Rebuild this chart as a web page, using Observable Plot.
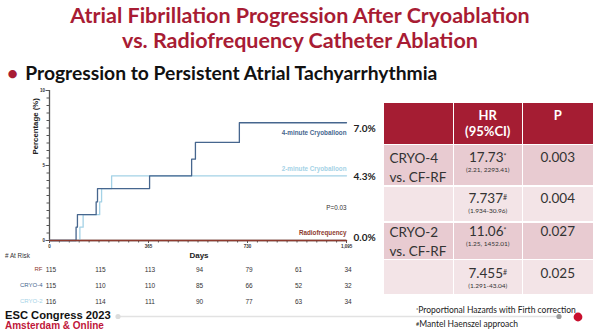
<!DOCTYPE html>
<html><head><meta charset="utf-8">
<script src="https://cdn.jsdelivr.net/npm/d3@7"></script>
<script src="https://cdn.jsdelivr.net/npm/@observablehq/plot@0.6"></script>
<style>
body{margin:0;background:#fff;}
#slide{position:relative;width:600px;height:332px;overflow:hidden;background:#fff;font-family:Lato,"Open Sans",sans-serif;}
.abs{position:absolute;}
#title{left:0;top:3px;width:600px;text-align:center;color:#a81c34;font-weight:700;font-size:21.5px;line-height:25px;}
#subtitle{left:7px;top:62px;color:#111;font-weight:700;font-size:19.3px;line-height:22px;white-space:nowrap;}
#subtitle .bul{color:#a81c34;margin-right:7px;}
.cell{position:absolute;box-sizing:border-box;text-align:center;color:#333;}
.big{font-size:13.5px;line-height:17px;}
.small{font-size:6.5px;line-height:8px;}
.hdr{color:#fff;font-weight:700;font-size:13px;line-height:16px;}
sup{font-size:7px;vertical-align:top;position:relative;top:-1px;}
#esc{left:5px;top:309px;font-family:"Liberation Sans",Arial,sans-serif;font-weight:700;font-size:11.2px;line-height:12px;color:#111;}
#ams{left:5px;top:320px;font-family:"Liberation Sans",Arial,sans-serif;font-weight:700;font-size:10px;line-height:11px;color:#c0163a;}
.foot{left:416px;font-size:8.5px;line-height:10px;color:#222;white-space:nowrap;}
.foot sup{font-size:5.5px;top:0;}
</style></head><body><div id="slide"></div><script>
// ---- data ----
const days4 = [0, 98, 103, 172, 177, 369, 524, 538, 700, 1095];
const pct4  = [0, 0.89, 1.72, 2.57, 3.46, 4.31, 5.42, 6.54, 7.85, 7.85];
const days2 = [0, 112, 124, 185, 192, 229, 1095];
const pct2  = [0, 0.89, 1.72, 2.57, 3.46, 4.31, 4.31];
const daysRF = [0, 1095];
const pctRF  = [0, 0];
const seriesNames = ["4-minute Cryoballoon", "2-minute Cryoballoon", "Radiofrequency"];
const endLabels = ["7.0%", "4.3%", "0.0%"];
const pText = "P=0.03";
const xTicks = [0, 365, 730, 1095];
const yTicks = [0, 5, 10];
const riskDays = [0, 182.5, 365, 547.5, 730, 912.5, 1095];
const riskGroups = ["RF", "CRYO-4", "CRYO-2"];
const riskRF = [115, 115, 113, 94, 79, 61, 34];
const riskC4 = [115, 110, 110, 85, 66, 52, 32];
const riskC2 = [116, 114, 111, 90, 77, 63, 34];
const tableHeader = ["", "HR|(95%CI)", "P"];
const tableGroup = ["CRYO-4|vs. CF-RF", "", "CRYO-2|vs. CF-RF", ""];
const tableHR = ["17.73", "7.737", "11.06", "7.455"];
const tableHRMark = ["*", "#", "*", "#"];
const tableCI = ["(2.21, 2293.41)", "(1.934-30.96)", "(1.25, 1452.01)", "(1.291-43.04)"];
const tableP = ["0.003", "0.004", "0.027", "0.025"];
const titleLines = ["Atrial Fibrillation Progression After Cryoablation", "vs. Radiofrequency Catheter Ablation"];
const subtitle = "Progression to Persistent Atrial Tachyarrhythmia";
const footnotes = [["*", "Proportional Hazards with Firth correction"], ["#", "Mantel Haenszel approach"]];

// ---- styles ----
const C4 = "#46668e", C2 = "#a4d2e6", CRF = "#8e3a2e";
const slide = document.getElementById("slide");
function add(html, cls, id, style) {
  const d = document.createElement("div");
  d.className = cls; if (id) d.id = id; if (style) d.style.cssText = style;
  d.innerHTML = html; slide.appendChild(d); return d;
}
add(titleLines.join("<br>"), "abs", "title");
add('<span class="bul">•</span>' + subtitle, "abs", "subtitle");

// ---- KM chart ----
const s4 = days4.map((d, i) => ({day: d, pct: pct4[i]}));
const s2 = days2.map((d, i) => ({day: d, pct: pct2[i]}));
const sRF = daysRF.map((d, i) => ({day: d, pct: pctRF[i]}));
const minorX = d3.range(0, 1095.1, 36.5);
const minorY = d3.range(0, 10.01, 0.5);
const font = "'Liberation Sans', Arial, sans-serif";
const km = Plot.plot({
  width: 380, height: 165, marginLeft: 49, marginRight: 34, marginTop: 5, marginBottom: 10,
  x: {domain: [0, 1095], axis: null},
  y: {domain: [0, 10], axis: null},
  style: {fontFamily: font, background: "transparent", overflow: "visible"},
  marks: [
    Plot.axisX(minorX, {tickSize: 2.5, tickFormat: () => "", label: null, stroke: "#555"}),
    Plot.axisX(xTicks, {tickSize: 3, tickPadding: 1, fontSize: 4.5, fontWeight: "bold", label: null, stroke: "#555", fill: "#333"}),
    Plot.axisY(minorY, {tickSize: 2.5, tickFormat: () => "", label: null, stroke: "#555"}),
    Plot.axisY(yTicks, {tickSize: 3.5, tickPadding: 1, fontSize: 4.5, fontWeight: "bold", label: null, stroke: "#555", fill: "#333"}),
    Plot.ruleX([0], {stroke: "#555", strokeWidth: 1.3}),
    Plot.ruleY([0], {stroke: "#555", strokeWidth: 1.3}),
    Plot.text(["Percentage (%)"], {frameAnchor: "left", rotate: -90, dx: -14, dy: -11, fontSize: 7.8, fontWeight: "bold", fill: "#222"}),
    Plot.line(s2, {x: "day", y: "pct", curve: "step-after", stroke: C2, strokeWidth: 1.3}),
    Plot.line(s4, {x: "day", y: "pct", curve: "step-after", stroke: C4, strokeWidth: 1.3}),
    Plot.line(sRF, {x: "day", y: "pct", curve: "step-after", stroke: CRF, strokeWidth: 1.5}),
    Plot.text([seriesNames[0]], {x: days4.at(-1), y: pct4.at(-1), dy: 10, textAnchor: "end", fontSize: 6.3, fontWeight: 600, fill: C4}),
    Plot.text([seriesNames[1]], {x: days2.at(-1), y: pct2.at(-1), dy: -7, textAnchor: "end", fontSize: 6.3, fontWeight: 600, fill: C2}),
    Plot.text([seriesNames[2]], {x: daysRF.at(-1), y: pctRF.at(-1), dy: -8, textAnchor: "end", fontSize: 6.3, fontWeight: "bold", fill: CRF}),
    Plot.text([pText], {frameAnchor: "right", dy: 42, fontSize: 6.3, fill: "#333"}),
    Plot.text([endLabels[0]], {x: days4.at(-1), y: pct4.at(-1), dx: 7, dy: 6, textAnchor: "start", fontFamily: "Lato", fontSize: 10, fontWeight: "bold", fill: "#222"}),
    Plot.text([endLabels[1]], {x: days2.at(-1), y: pct2.at(-1), dx: 7, dy: 1, textAnchor: "start", fontFamily: "Lato", fontSize: 10, fontWeight: "bold", fill: "#222"}),
    Plot.text([endLabels[2]], {x: daysRF.at(-1), y: pctRF.at(-1), dx: 7, dy: -3, textAnchor: "start", fontFamily: "Lato", fontSize: 10, fontWeight: "bold", fill: "#222"})
  ]
});
km.style.position = "absolute"; km.style.left = "0px"; km.style.top = "85px";
slide.appendChild(km);

// ---- at risk ----
const riskRows = [];
[riskRF, riskC4, riskC2].forEach((arr, g) => arr.forEach((v, i) => riskRows.push({group: riskGroups[g], day: riskDays[i], n: v})));
const risk = Plot.plot({
  width: 380, height: 48, marginLeft: 49, marginRight: 34, marginTop: 0, marginBottom: 0,
  x: {domain: [0, 1095], axis: null},
  y: {type: "point", domain: riskGroups, axis: null, padding: 0.5},
  color: {domain: riskGroups, range: [CRF, C4, C2]},
  style: {fontFamily: font, background: "transparent", overflow: "visible"},
  marks: [
    Plot.text(riskRows, {x: "day", y: "group", text: "n", dx: 1.5, fontSize: 6.5, fill: "#333"}),
    Plot.text(riskGroups, {x: 0, y: d => d, text: d => d, dx: -7, textAnchor: "end", fontSize: 6, fill: d => d})
  ]
});
risk.style.position = "absolute"; risk.style.left = "0px"; risk.style.top = "261px";
slide.appendChild(risk);
add("# At Risk", "abs", null, `left:5px;top:252px;font-family:${font};font-size:6.3px;line-height:8px;color:#333;`);
add("Days", "abs", null, `left:180px;width:38px;text-align:center;top:251px;font-family:${font};font-size:8px;font-weight:bold;line-height:10px;color:#222;`);

// ---- table ----
const colX = [383.5, 453.5, 523];
const colW = [69, 68.5, 69.5];
const rowY = [102.5, 145, 186.5, 222.5, 260];
const rowH = [41, 40, 34.5, 36.5, 34];
const rowBg = ["#a51d33", "#e8cbd1", "#f3e4e7", "#e8cbd1", "#f3e4e7"];
function cell(r, c, html, extra) {
  return add(html, "cell", null, `left:${colX[c]}px;top:${rowY[r]}px;width:${colW[c]}px;height:${rowH[r]}px;background:${rowBg[r]};${extra || ""}`);
}
tableHeader.forEach((h, c) => cell(0, c, `<div class="hdr" style="padding-top:4px">${h.split("|").join("<br>")}</div>`));
for (let r = 0; r < 4; r++) {
  const pt = [3.5, 3.5, 0, 5][r];
  cell(r + 1, 0, `<div class="big" style="text-align:left;padding-left:6px;padding-top:${pt}px;line-height:19px">${tableGroup[r].split("|").join("<br>")}</div>`);
  cell(r + 1, 1, `<div class="big" style="padding-top:${pt}px">${tableHR[r]}<sup>${tableHRMark[r]}</sup></div><div class="small">${tableCI[r]}</div>`);
  cell(r + 1, 2, `<div class="big" style="padding-top:${pt}px">${tableP[r]}</div>`);
}

// ---- footer ----
const fn = footnotes.map(f => `<sup>${f[0]}</sup>${f[1]}`);
add(fn[0], "abs foot", null, "top:305px;");
add(fn[1], "abs foot", null, "top:319px;");
add("ESC Congress 2023", "abs", "esc");
add("Amsterdam &amp; Online", "abs", "ams");
add('<svg width="600" height="332" style="position:absolute;left:0;top:0"><line x1="118" y1="316.5" x2="559" y2="316.5" stroke="#e2e2e2" stroke-width="1.5"/><circle cx="118" cy="316.5" r="2.6" fill="#dcdcdc"/><circle cx="559" cy="316.5" r="2.6" fill="#9a9a9a"/><circle cx="578" cy="317" r="4.4" fill="#c8102e"/></svg>', "abs", null, "left:0;top:0;width:600px;height:332px;pointer-events:none;");
</script></body></html>
